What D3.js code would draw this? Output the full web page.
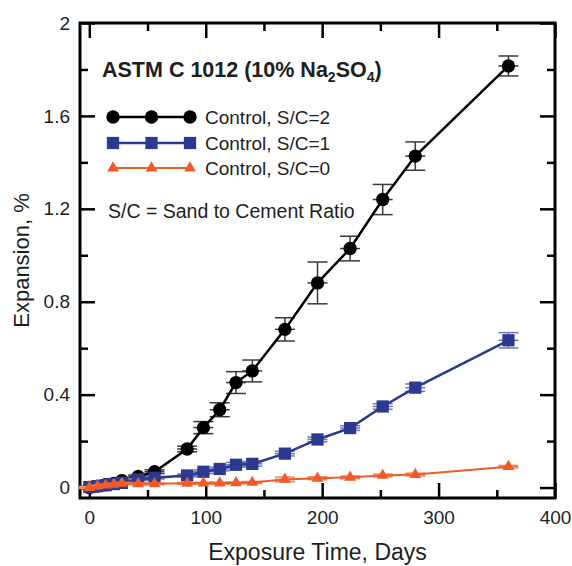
<!DOCTYPE html>
<html>
<head>
<meta charset="utf-8">
<script src="https://cdn.jsdelivr.net/npm/d3@7"></script>
<style>
  body { margin: 0; background: #fff; }
  svg { display: block; font-family: "Liberation Sans", Arial, sans-serif; }
</style>
</head>
<body>
<svg id="drawing_region"></svg>
<script>
// exposure days (shared by all three mixes)
const days = [0, 7, 14, 21, 28, 42, 56, 84, 98, 112, 126, 140, 168, 196, 224, 252, 280, 360];

// expansion, %
const sc2 = [0.000, 0.006, 0.012, 0.018, 0.030, 0.048, 0.068, 0.166, 0.258, 0.335, 0.452, 0.502, 0.681, 0.881, 1.029, 1.240, 1.427, 1.815];
const sc1 = [0.002, 0.006, 0.010, 0.015, 0.020, 0.035, 0.042, 0.052, 0.068, 0.080, 0.098, 0.102, 0.146, 0.207, 0.256, 0.349, 0.430, 0.634];
const sc0 = [0.000, 0.006, 0.010, 0.014, 0.018, 0.016, 0.016, 0.018, 0.019, 0.019, 0.020, 0.022, 0.035, 0.040, 0.044, 0.052, 0.056, 0.090];

// error (+/-)
const sc2Err = [0.004, 0.004, 0.004, 0.005, 0.005, 0.006, 0.008, 0.012, 0.026, 0.030, 0.047, 0.047, 0.050, 0.090, 0.053, 0.065, 0.061, 0.043];
const sc1Err = [0.004, 0.004, 0.004, 0.004, 0.004, 0.005, 0.005, 0.006, 0.008, 0.008, 0.010, 0.010, 0.010, 0.010, 0.010, 0.012, 0.016, 0.033];
const sc0Err = [0.004, 0.004, 0.004, 0.004, 0.004, 0.004, 0.004, 0.004, 0.004, 0.004, 0.004, 0.004, 0.010, 0.006, 0.006, 0.006, 0.006, 0.005];

const seriesNames = ["Control, S/C=2", "Control, S/C=1", "Control, S/C=0"];
const xTicks = [0, 100, 200, 300, 400];
const yTicks = [0, 0.4, 0.8, 1.2, 1.6, 2];

const width = 572, height = 566;
const frame = {left: 80, right: 555, top: 23, bottom: 498};

const svg = d3.select('#drawing_region')
    .attr('width', width)
    .attr('height', height);

const x = d3.scaleLinear().domain([-8, 400]).range([frame.left, frame.right]);
const y = d3.scaleLinear().domain([-0.045, 2]).range([frame.bottom, frame.top]);

const series = [
    {name: seriesNames[0], values: sc2, err: sc2Err, color: '#000000', errColor: '#3a3a3a', shape: d3.symbolCircle, size: 140, lw: 2.5},
    {name: seriesNames[1], values: sc1, err: sc1Err, color: '#2b3990', errColor: '#6f77b5', shape: d3.symbolSquare, size: 150, lw: 2.5},
    {name: seriesNames[2], values: sc0, err: sc0Err, color: '#f15a29', errColor: '#f4845c', shape: d3.symbolTriangle, size: 60, lw: 2}
];

// axes, ticks pointing inward on all four sides
const textColor = '#1e1e1e';
function styleAxis(g) {
    g.select('.domain').remove();
    g.selectAll('.tick line').attr('stroke', '#000').attr('stroke-width', 2.5);
    g.selectAll('.tick text').attr('fill', textColor).style('font-size', '19px');
}

svg.append('g')
    .attr('transform', `translate(0,${frame.bottom})`)
    .call(d3.axisBottom(x).tickValues(d3.range(50, 400, 100)).tickSize(-8).tickFormat(''))
    .call(styleAxis);
svg.append('g')
    .attr('transform', `translate(0,${frame.bottom})`)
    .call(d3.axisBottom(x).tickValues(xTicks).tickSize(-15).tickPadding(13).tickFormat(d3.format('d')))
    .call(styleAxis);
svg.append('g')
    .attr('transform', `translate(0,${frame.top})`)
    .call(d3.axisTop(x).tickValues(d3.range(50, 400, 100)).tickSize(-8).tickFormat(''))
    .call(styleAxis);
svg.append('g')
    .attr('transform', `translate(0,${frame.top})`)
    .call(d3.axisTop(x).tickValues(xTicks).tickSize(-15).tickFormat(''))
    .call(styleAxis);

svg.append('g')
    .attr('transform', `translate(${frame.left},0)`)
    .call(d3.axisLeft(y).tickValues([0.2, 0.6, 1.0, 1.4, 1.8]).tickSize(-8).tickFormat(''))
    .call(styleAxis);
svg.append('g')
    .attr('transform', `translate(${frame.left},0)`)
    .call(d3.axisLeft(y).tickValues(yTicks).tickSize(-15).tickPadding(10).tickFormat(d => d === 0 || d === 2 ? d3.format('d')(d) : d3.format('.1f')(d)))
    .call(styleAxis);
svg.append('g')
    .attr('transform', `translate(${frame.right},0)`)
    .call(d3.axisRight(y).tickValues([0.2, 0.6, 1.0, 1.4, 1.8]).tickSize(-8).tickFormat(''))
    .call(styleAxis);
svg.append('g')
    .attr('transform', `translate(${frame.right},0)`)
    .call(d3.axisRight(y).tickValues(yTicks).tickSize(-15).tickFormat(''))
    .call(styleAxis);

// frame
svg.append('rect')
    .attr('x', frame.left)
    .attr('y', frame.top)
    .attr('width', frame.right - frame.left)
    .attr('height', frame.bottom - frame.top)
    .attr('fill', 'none')
    .attr('stroke', '#000')
    .attr('stroke-width', 3);

// axis titles
svg.append('text')
    .attr('x', (frame.left + frame.right) / 2)
    .attr('y', 560)
    .attr('text-anchor', 'middle')
    .attr('fill', textColor)
    .style('font-size', '23px')
    .text('Exposure Time, Days');

svg.append('text')
    .attr('transform', `translate(29,${(frame.top + frame.bottom) / 2}) rotate(-90)`)
    .attr('text-anchor', 'middle')
    .attr('fill', textColor)
    .style('font-size', '22px')
    .text('Expansion, %');

// data
const chart = svg.append('g');
const line = d3.line().x(d => x(d.day)).y(d => y(d.v));
const cap = 10;

series.forEach(s => {
    const pts = days.map((day, i) => ({day: day, v: s.values[i], e: s.err[i]}));
    const g = chart.append('g');

    const eb = g.selectAll('.err').data(pts).enter().append('g')
        .attr('stroke', s.errColor)
        .attr('stroke-width', 1.5);
    eb.append('line')
        .attr('x1', d => x(d.day)).attr('x2', d => x(d.day))
        .attr('y1', d => y(d.v - d.e)).attr('y2', d => y(d.v + d.e));
    eb.append('line')
        .attr('x1', d => x(d.day) - cap).attr('x2', d => x(d.day) + cap)
        .attr('y1', d => y(d.v + d.e)).attr('y2', d => y(d.v + d.e));
    eb.append('line')
        .attr('x1', d => x(d.day) - cap).attr('x2', d => x(d.day) + cap)
        .attr('y1', d => y(d.v - d.e)).attr('y2', d => y(d.v - d.e));
    eb.append('line')
        .attr('x1', d => x(d.day) - cap).attr('x2', d => x(d.day) + cap)
        .attr('y1', d => y(d.v)).attr('y2', d => y(d.v));

    g.append('path')
        .datum(pts)
        .attr('d', line)
        .attr('fill', 'none')
        .attr('stroke', s.color)
        .attr('stroke-width', s.lw);

    g.selectAll('.mark').data(pts).enter().append('path')
        .attr('transform', d => `translate(${x(d.day)},${y(d.v)})`)
        .attr('d', d3.symbol().type(s.shape).size(s.size))
        .attr('fill', s.color);
});

// title
const title = svg.append('text')
    .attr('x', 102)
    .attr('y', 77)
    .attr('fill', textColor)
    .style('font-size', '21.5px')
    .style('font-weight', 'bold');
title.append('tspan').text('ASTM C 1012 (10% Na');
title.append('tspan').attr('dy', 5).style('font-size', '14px').text('2');
title.append('tspan').attr('dy', -5).text('SO');
title.append('tspan').attr('dy', 5).style('font-size', '14px').text('4');
title.append('tspan').attr('dy', -5).text(')');

// legend
const legend = svg.append('g');
const legendRows = [117, 143, 168];
series.forEach((s, i) => {
    const row = legend.append('g').attr('transform', `translate(0,${legendRows[i]})`);
    row.append('line')
        .attr('x1', 113).attr('x2', 190)
        .attr('stroke', s.color)
        .attr('stroke-width', s.lw);
    [113, 151.5, 190].forEach(px => {
        row.append('path')
            .attr('transform', `translate(${px},0)`)
            .attr('d', d3.symbol().type(s.shape).size(s.size))
            .attr('fill', s.color);
    });
    row.append('text')
        .attr('x', 205)
        .attr('y', 7)
        .attr('fill', textColor)
        .style('font-size', '19px')
        .text(s.name);
});

svg.append('text')
    .attr('x', 108)
    .attr('y', 218)
    .attr('fill', textColor)
    .style('font-size', '19.5px')
    .text('S/C = Sand to Cement Ratio');
</script>
</body>
</html>
